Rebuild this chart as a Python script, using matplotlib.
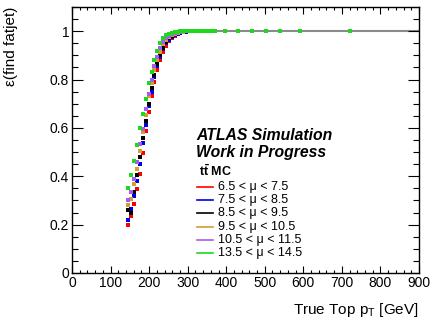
import numpy as np
import matplotlib
matplotlib.use("Agg")
import matplotlib.pyplot as plt
from matplotlib.ticker import MultipleLocator

plt.rcParams['font.family'] = ['Liberation Sans', 'DejaVu Sans']
plt.rcParams['mathtext.fontset'] = 'custom'
plt.rcParams['mathtext.rm'] = 'Liberation Sans'
plt.rcParams['mathtext.it'] = 'Liberation Sans:italic'
plt.rcParams['mathtext.bf'] = 'Liberation Sans:bold'

# bin centres (7.5 GeV bins) in the turn-on region
pt_rise = [146.25, 153.75, 161.25, 168.75, 176.25, 183.75, 191.25, 198.75, 206.25, 213.75,
           221.25, 228.75, 236.25, 243.75, 251.25, 258.75, 266.25, 273.75, 281.25, 288.75, 296.25]
# plateau bins
pt_flat = [303.75, 311.25, 318.75, 326.25, 333.75, 341.25, 348.75, 356.25, 363.75, 371.25]
# sparse high-pt points of the last sample
pt_tail = [397, 431, 467, 504, 540, 592, 722]
eff_tail = [1.0, 1.0, 1.0, 1.0, 1.0, 1.0, 1.0]

labels = ["6.5 < μ < 7.5", "7.5 < μ < 8.5", "8.5 < μ < 9.5",
          "9.5 < μ < 10.5", "10.5 < μ < 11.5", "13.5 < μ < 14.5"]
colors = ["#ff0000", "#0000e0", "#000000", "#d0a030", "#a45cf5", "#1ed81e"]

eff_mu7 = [0.20, 0.235, 0.285, 0.347, 0.41, 0.497, 0.587, 0.665, 0.73, 0.79,
           0.84, 0.88, 0.915, 0.94, 0.96, 0.972, 0.982, 0.988, 0.993, 0.996, 0.998]
eff_mu8 = [0.22, 0.266, 0.32, 0.38, 0.45, 0.537, 0.613, 0.69, 0.75, 0.81,
           0.855, 0.895, 0.925, 0.95, 0.965, 0.977, 0.985, 0.99, 0.994, 0.997, 0.998]
eff_mu9 = [0.26, 0.25, 0.335, 0.405, 0.48, 0.56, 0.628, 0.70, 0.765, 0.82,
           0.865, 0.90, 0.93, 0.955, 0.97, 0.98, 0.987, 0.992, 0.995, 0.997, 0.999]
eff_mu10 = [0.28, 0.305, 0.37, 0.43, 0.504, 0.583, 0.654, 0.73, 0.785, 0.84,
            0.88, 0.915, 0.945, 0.962, 0.975, 0.984, 0.99, 0.994, 0.996, 0.998, 0.999]
eff_mu11 = [0.30, 0.335, 0.39, 0.46, 0.533, 0.596, 0.678, 0.742, 0.80, 0.855,
            0.895, 0.93, 0.955, 0.97, 0.98, 0.988, 0.993, 0.996, 0.998, 0.999, 1.0]
eff_mu14 = [0.35, 0.405, 0.463, 0.53, 0.60, 0.657, 0.72, 0.785, 0.83, 0.88,
            0.917, 0.95, 0.97, 0.983, 0.99, 0.994, 0.996, 0.998, 0.999, 1.0, 1.0]
eff_flat = [1.0, 1.0, 1.0, 1.0, 1.0, 1.0, 1.0, 1.0, 1.0, 1.0]

series = [eff_mu7, eff_mu8, eff_mu9, eff_mu10, eff_mu11, eff_mu14]

W, H = 432, 322
fig = plt.figure(figsize=(W/100, H/100), dpi=100)
ax = fig.add_axes([72/W, 1-273/H, 347/W, 266/H])

def axfrac(px, py):
    # pixel position in the picture -> axes fraction
    return (px-72)/347, (273-py)/266

# plateau reference at 1
ax.plot([285, 900], [1, 1], color="#8a8a8a", lw=1.5, zorder=1)

for eff, c in zip(series, colors):
    ax.plot(pt_rise + pt_flat, eff + eff_flat, ls="none", marker="s", ms=2.7,
            mec=c, mfc=c, mew=0, zorder=3)
ax.plot(pt_tail, eff_tail, ls="none", marker="s", ms=2.7, mec=colors[-1],
        mfc=colors[-1], mew=0, zorder=3)

ax.set_xlim(0, 900)
ax.set_ylim(0, 1.1)
ax.xaxis.set_major_locator(MultipleLocator(100))
ax.xaxis.set_minor_locator(MultipleLocator(20))
ax.yaxis.set_minor_locator(MultipleLocator(0.05))
ax.set_yticks([0, 0.2, 0.4, 0.6, 0.8, 1.0])
ax.set_yticklabels(["0", "0.2", "0.4", "0.6", "0.8", "1"])
ax.tick_params(axis="both", which="both", direction="in", top=True, right=True,
               labelsize=10, width=0.8)
ax.tick_params(axis="x", which="major", length=5, pad=2)
ax.tick_params(axis="x", which="minor", length=2.5)
ax.tick_params(axis="y", which="major", length=8, pad=2)
ax.tick_params(axis="y", which="minor", length=4)
for s in ax.spines.values():
    s.set_linewidth(1.0)

fig.text(11/W, 1-7/H, "ε(find fatjet)", rotation=90, ha="center", va="top", fontsize=11)
fig.text(419/W, 1-310/H, r"True Top p$_\mathrm{T}$ [GeV]", ha="right", va="center", fontsize=11)

x0, y0 = axfrac(196, 135)
ax.text(x0, y0, "ATLAS Simulation", transform=ax.transAxes, fontsize=11.3,
        fontweight="bold", fontstyle="italic", va="center")
x0, y0 = axfrac(196, 153)
ax.text(x0, y0, "Work in Progress", transform=ax.transAxes, fontsize=11.3,
        fontweight="bold", fontstyle="italic", va="center")
x0, y0 = axfrac(199, 171)
ax.text(x0, y0, r"$\mathbf{t\bar{t}}$ MC", transform=ax.transAxes, fontsize=9,
        fontweight="bold", va="center")

# legend, drawn row by row
row_y = [187, 200.2, 213.4, 226.6, 239.8, 253]
for lab, c, py in zip(labels, colors, row_y):
    xa, ya = axfrac(197, py)
    xb, _ = axfrac(213, py)
    ax.plot([xa, xb], [ya, ya], color=c, lw=1.2, transform=ax.transAxes, clip_on=False)
    xt, _ = axfrac(218, py)
    ax.text(xt, ya, lab, transform=ax.transAxes, fontsize=9, va="center")

fig.savefig("out.png", dpi=100)
